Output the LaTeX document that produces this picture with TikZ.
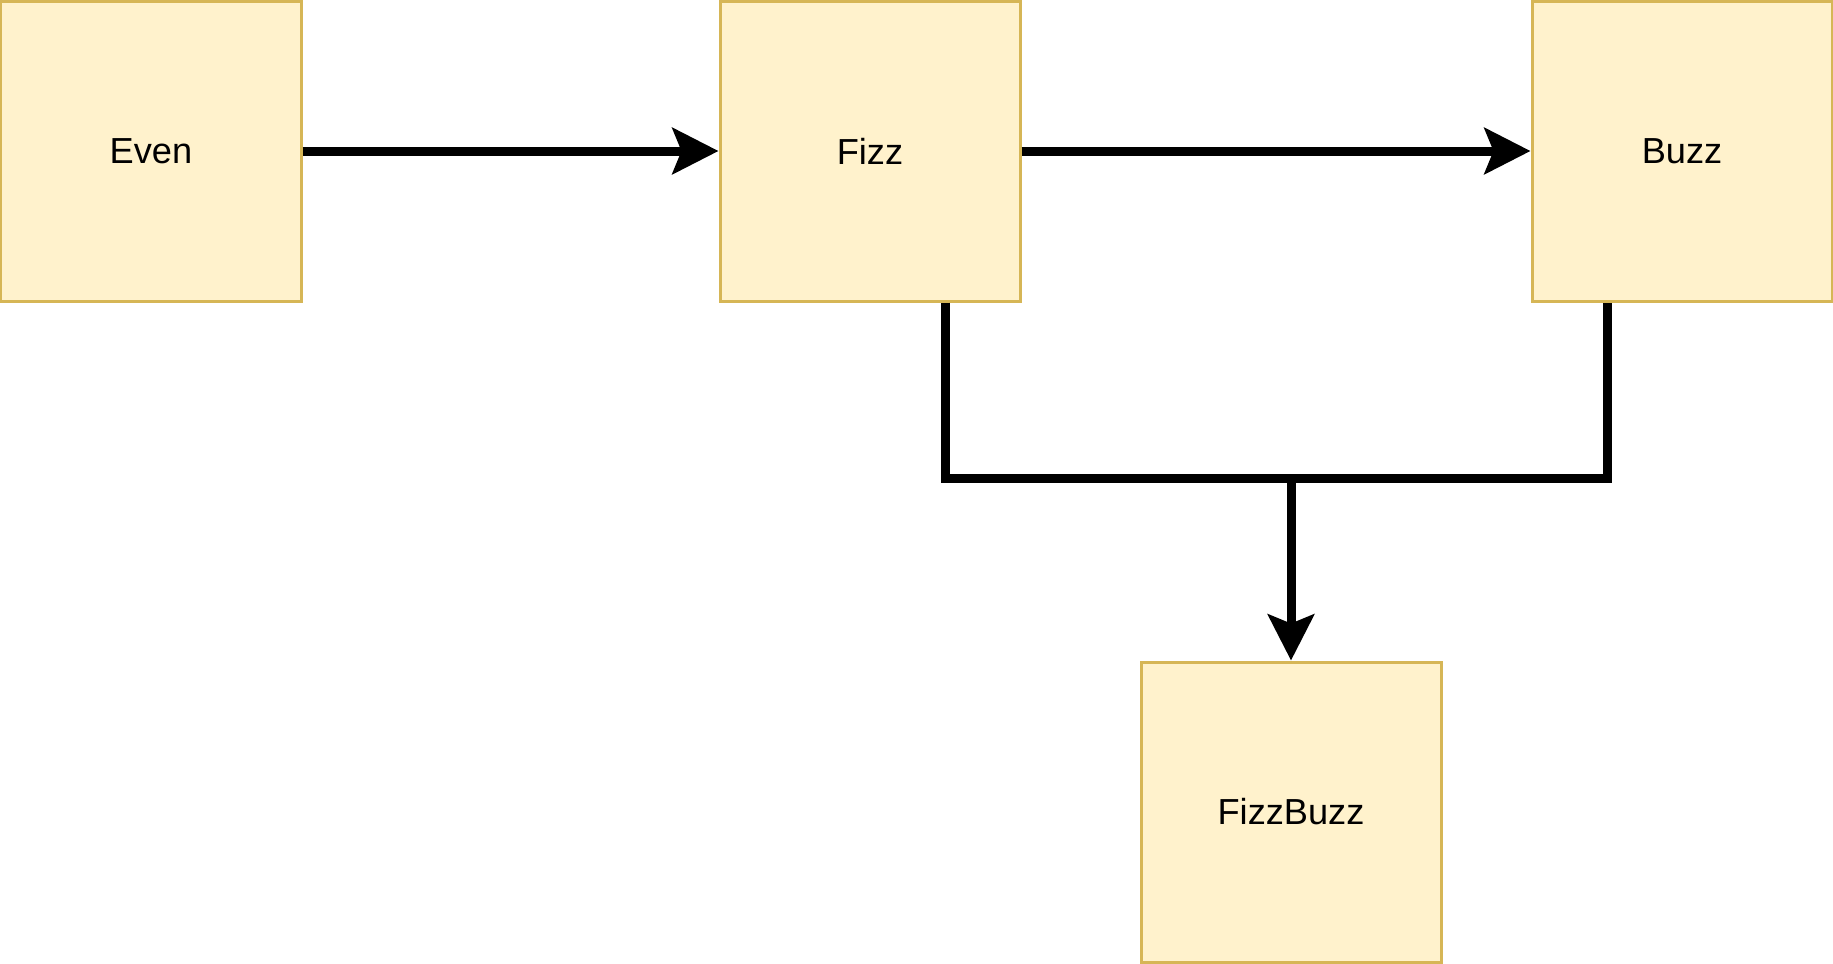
\documentclass[tikz,border=0pt]{standalone}
\usepackage{fontspec}
\setmainfont{Liberation Sans}
\usepackage{xcolor}
\usetikzlibrary{arrows.meta,positioning}
\definecolor{cellfill}{HTML}{FFF2CC}
\definecolor{celledge}{HTML}{D6B656}

\begin{document}
\begin{tikzpicture}[
  node distance=4.16cm,
  cell/.style={rectangle, draw=celledge, fill=cellfill, line width=0.03cm,
              minimum size=3cm, inner sep=0pt, font=\fontsize{10.3}{12}\selectfont},
  flow/.style={line width=0.09cm},
  arr/.style={flow, -{Stealth[length=4.6mm, width=4.6mm, inset=0.9mm]}}
]
  \useasboundingbox (0,0) rectangle (18.33,-9.63);
  \node[cell] (even) at (1.51,-1.51) {Even};
  \node[cell, right=of even] (fizz) {Fizz};
  \node[cell, right=5.09cm of fizz] (buzz) {Buzz};
  \node[cell] (fizzbuzz) at (12.91,-8.12) {FizzBuzz};
  \coordinate[above=1.82cm of fizzbuzz.north] (merge);

  \draw[arr] (even) -- (fizz);
  \draw[arr] (fizz) -- (buzz);
  \draw[flow] ([xshift=7.5mm]fizz.south) |- (merge) -| ([xshift=-7.5mm]buzz.south);
  \draw[arr] (merge) -- (fizzbuzz);
\end{tikzpicture}
\end{document}
